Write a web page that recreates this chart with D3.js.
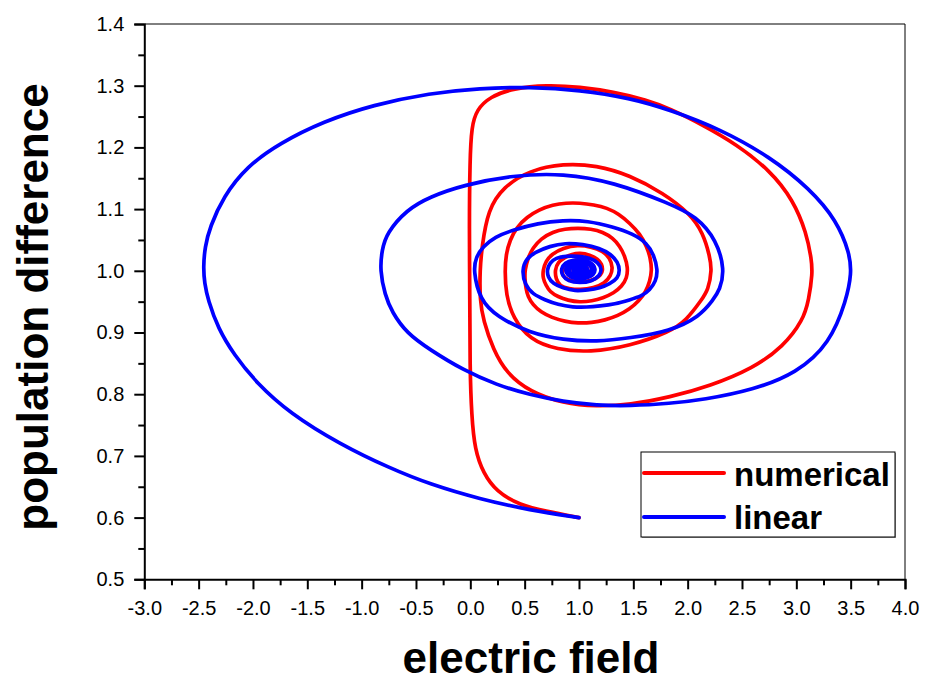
<!DOCTYPE html>
<html><head><meta charset="utf-8">
<script src="https://cdn.jsdelivr.net/npm/d3@7"></script>
<style>body{margin:0;background:#fff;} svg{display:block;font-family:"Liberation Sans",Arial,sans-serif;}</style>
</head><body><svg id="c" width="925" height="684"></svg>
<script>
// ---------- data ----------
const seriesNames = ["numerical", "linear"];
const xTicks = [-3.0,-2.5,-2.0,-1.5,-1.0,-0.5,0.0,0.5,1.0,1.5,2.0,2.5,3.0,3.5,4.0];
const yTicks = [0.5,0.6,0.7,0.8,0.9,1.0,1.1,1.2,1.3,1.4];
const xTitle = "electric field";
const yTitle = "population difference";

// numerical solution: [electric field, population difference]
const numerical = [
[1.000,0.600],[0.702,0.610],[0.456,0.620],[0.242,0.642],[0.119,0.672],[0.042,0.710],[0.012,0.764],
[-0.004,0.845],[-0.004,0.953],[-0.010,1.071],[-0.004,1.180],[0.012,1.234],[0.058,1.261],[0.180,1.282],
[0.395,1.296],[0.702,1.301],[1.008,1.298],[1.315,1.290],[1.622,1.277],[1.836,1.263],[2.143,1.236],
[2.450,1.205],[2.756,1.163],[2.971,1.115],[3.094,1.061],[3.140,1.018],[3.149,0.996],[3.115,0.953],
[3.063,0.920],[2.879,0.877],[2.603,0.842],[2.204,0.813],[1.836,0.795],[1.468,0.783],[1.162,0.780],
[0.855,0.785],[0.548,0.804],[0.334,0.834],[0.211,0.872],[0.119,0.920],[0.088,0.953],[0.088,1.001],
[0.107,1.039],[0.162,1.099],[0.303,1.136],[0.548,1.163],[0.855,1.174],[1.162,1.171],[1.468,1.155],
[1.775,1.126],[2.020,1.093],[2.143,1.061],[2.204,1.023],[2.223,1.001],[2.189,0.969],[2.128,0.953],
[1.990,0.920],[1.836,0.901],[1.468,0.878],[1.100,0.868],[0.797,0.872],[0.548,0.888],[0.392,0.924],
[0.328,0.961],[0.318,1.001],
[0.328,1.026],[0.364,1.050],[0.429,1.071],[0.521,1.087],[0.631,1.099],[0.760,1.107],[0.879,1.110],
[1.008,1.110],[1.137,1.107],[1.257,1.102],[1.367,1.092],[1.468,1.077],[1.560,1.060],[1.625,1.039],
[1.657,1.021],[1.671,1.001],[1.652,0.983],[1.615,0.966],[1.551,0.951],[1.468,0.938],[1.358,0.927],
[1.238,0.920],[1.119,0.916],[0.990,0.915],[0.870,0.918],[0.751,0.924],[0.649,0.933],[0.576,0.945],
[0.530,0.958],[0.511,0.972],[0.502,0.987],[0.502,1.001],[0.530,1.021],[0.576,1.037],[0.649,1.052],
[0.760,1.063],[0.870,1.068],[0.990,1.069],[1.109,1.068],[1.220,1.063],[1.312,1.053],[1.376,1.040],
[1.422,1.024],[1.450,1.005],[1.441,0.988],[1.395,0.975],[1.321,0.964],[1.220,0.956],[1.119,0.951],
[1.008,0.949],[0.898,0.952],[0.806,0.958],[0.732,0.966],[0.695,0.977],[0.668,0.988],[0.668,1.001],
[0.695,1.016],[0.751,1.027],[0.852,1.037],[0.990,1.042],[1.109,1.039],[1.220,1.032],[1.284,1.021],
[1.312,1.005],[1.293,0.992],[1.238,0.980],[1.137,0.972],[1.008,0.969],[0.907,0.971],[0.824,0.975],
[0.787,0.987],[0.778,1.001],[0.806,1.014],[0.870,1.022],[0.935,1.027],[1.008,1.029],[1.100,1.026],
[1.174,1.019],[1.211,1.011],[1.220,1.001],[1.201,0.993],[1.155,0.987],[1.082,0.983],[1.008,0.982],
[0.925,0.984],[0.870,0.988],[0.843,0.995],[0.852,1.001],[0.879,1.011],[0.935,1.016],[1.008,1.018],
[1.082,1.015],[1.137,1.009],[1.146,1.001],[1.119,0.993],[1.063,0.990],[0.990,0.990],[0.925,0.993],
[0.907,1.001],[0.935,1.008],[0.999,1.010],[1.063,1.008],[1.091,1.001],[1.054,0.995],[0.990,0.995],
[0.953,1.000],[0.971,1.006],[1.027,1.006],[1.045,1.001],[1.008,0.998],[0.990,1.001],[1.008,1.003]
];

// linear approximation: [electric field, population difference]
const linear = [
[1.000,0.600],[0.548,0.612],[0.088,0.630],[-0.372,0.654],[-0.740,0.680],[-1.200,0.719],[-1.660,0.769],
[-1.966,0.818],[-2.175,0.864],[-2.322,0.907],[-2.414,0.953],[-2.446,0.980],[-2.457,1.006],[-2.442,1.039],
[-2.396,1.071],[-2.273,1.120],[-2.058,1.169],[-1.752,1.207],[-1.353,1.242],[-0.893,1.269],[-0.372,1.288],
[0.088,1.296],[0.548,1.298],[1.008,1.293],[1.468,1.280],[1.836,1.261],[2.296,1.230],[2.756,1.185],
[3.124,1.133],[3.370,1.082],[3.492,1.028],[3.508,0.996],[3.462,0.953],[3.308,0.882],[3.002,0.834],
[2.603,0.807],[2.143,0.791],[1.836,0.785],[1.468,0.781],[1.162,0.782],[0.855,0.788],[0.548,0.799],
[0.242,0.815],[-0.065,0.839],[-0.372,0.872],[-0.586,0.899],[-0.721,0.933],[-0.786,0.961],[-0.832,1.001],
[-0.813,1.034],[-0.770,1.061],[-0.586,1.099],[-0.372,1.120],[-0.065,1.139],[0.395,1.155],[0.855,1.158],
[1.315,1.144],[1.836,1.109],[2.082,1.088],[2.266,1.050],[2.342,1.001],[2.296,0.969],[2.235,0.953],
[2.112,0.926],[1.836,0.902],[1.468,0.891],[1.162,0.885],[0.855,0.888],[0.548,0.899],[0.242,0.926],
[0.088,0.953],[0.027,1.001],
[0.052,1.022],[0.116,1.039],[0.226,1.055],[0.392,1.066],[0.622,1.077],
[0.852,1.082],[1.082,1.081],[1.312,1.071],[1.496,1.060],[1.625,1.045],[1.689,1.026],[1.726,1.001],
[1.707,0.983],[1.652,0.969],[1.579,0.959],[1.468,0.953],[1.330,0.946],[1.192,0.943],[1.073,0.941],
[0.944,0.941],[0.806,0.945],[0.686,0.953],[0.576,0.962],[0.502,0.977],[0.475,1.001],[0.511,1.019],
[0.594,1.030],[0.732,1.040],[0.870,1.045],[1.036,1.043],[1.192,1.037],[1.293,1.027],[1.358,1.014],
[1.376,1.001],[1.358,0.988],[1.284,0.979],[1.192,0.972],[1.082,0.969],[0.962,0.967],[0.852,0.972],
[0.760,0.979],[0.714,0.990],[0.705,1.001],[0.732,1.013],[0.787,1.021],[0.879,1.024],[0.990,1.024],
[1.100,1.021],[1.174,1.014],[1.211,1.003],[1.192,0.992],[1.119,0.983],[1.008,0.980],[0.898,0.983],
[0.843,0.993],[0.834,1.003],[0.870,1.013],[0.944,1.018],[1.036,1.018],[1.119,1.013],[1.155,1.003],
[1.137,0.993],[1.063,0.987],[0.971,0.986],[0.889,0.993],[0.870,1.003],[0.907,1.011],[0.990,1.014],
[1.073,1.013],[1.128,1.005],[1.109,0.995],[1.045,0.990],[0.962,0.990],[0.907,0.996],[0.907,1.005],
[0.962,1.009],[1.036,1.009],[1.091,1.003],[1.073,0.995],[1.008,0.992],[0.944,0.996],[0.944,1.005],
[0.999,1.007],[1.054,1.005],[1.054,0.998],[0.999,0.996],[0.962,1.001],[0.999,1.004],[1.027,1.000],
[0.999,1.000]
];

// ---------- styles ----------
const colors = {numerical: "#ff0000", linear: "#0000ff"};

const svg = d3.select("#c");
const L = 144.3, R = 905, T = 24, B = 579.3;
const x = d3.scaleLinear().domain([xTicks[0], xTicks[xTicks.length-1]]).range([L, R]);
const y = d3.scaleLinear().domain([yTicks[0], yTicks[yTicks.length-1]]).range([B, T]);

// frame (top & right thin)
svg.append("line").attr("x1", L).attr("x2", R).attr("y1", T).attr("y2", T).attr("stroke", "#000").attr("stroke-width", 1);
svg.append("line").attr("x1", R).attr("x2", R).attr("y1", T).attr("y2", B).attr("stroke", "#000").attr("stroke-width", 1);

// curves (smoothed B-spline through the read points)
const line = d3.line().x(d => x(d[0])).y(d => y(d[1])).curve(d3.curveBasis);
const data = {numerical, linear};
seriesNames.forEach(n => {
  svg.append("path").datum(data[n]).attr("d", line)
    .attr("fill", "none").attr("stroke", colors[n]).attr("stroke-width", 3.7)
    .attr("stroke-linejoin", "round").attr("stroke-linecap", "round");
});

// minor tick values (midpoints between majors)
const xMinor = d3.pairs(xTicks).map(p => (p[0] + p[1]) / 2);
const yMinor = d3.pairs(yTicks).map(p => (p[0] + p[1]) / 2);

const fmt = d => d.toFixed(1);
const gx = svg.append("g").attr("transform", `translate(0,${B})`)
  .call(d3.axisBottom(x).tickValues(xTicks).tickFormat(fmt).tickSize(10).tickPadding(12));
const gxm = svg.append("g").attr("transform", `translate(0,${B})`)
  .call(d3.axisBottom(x).tickValues(xMinor).tickFormat("").tickSize(6));
const gy = svg.append("g").attr("transform", `translate(${L},0)`)
  .call(d3.axisLeft(y).tickValues(yTicks).tickFormat(fmt).tickSize(10).tickPadding(10));
const gym = svg.append("g").attr("transform", `translate(${L},0)`)
  .call(d3.axisLeft(y).tickValues(yMinor).tickFormat("").tickSize(6));
[gx, gy, gxm, gym].forEach(g => {
  g.select(".domain").attr("stroke", "#000").attr("stroke-width", 2);
  g.selectAll(".tick line").attr("stroke", "#000").attr("stroke-width", 2);
  g.selectAll(".tick text").attr("fill", "#000").style("font-size", "20px")
    .style("font-family", '"Liberation Sans", Arial, sans-serif');
});
gxm.select(".domain").remove(); gym.select(".domain").remove();

// axis titles
svg.append("text").attr("x", 531).attr("y", 673).attr("text-anchor", "middle")
  .style("font-size", "44px").style("font-weight", "bold").text(xTitle);
svg.append("text").attr("transform", `translate(48,${307}) rotate(-90)`).attr("text-anchor", "middle")
  .style("font-size", "44px").style("font-weight", "bold").text(yTitle);

// legend
const lg = svg.append("g");
lg.append("rect").attr("x", 642).attr("y", 453).attr("width", 254).attr("height", 85).attr("fill", "#999");
lg.append("rect").attr("x", 641).attr("y", 452).attr("width", 254).attr("height", 85)
  .attr("fill", "#fff").attr("stroke", "#000").attr("stroke-width", 1);
const legY = [473, 517], legBase = [486, 529];
seriesNames.forEach((n, i) => {
  lg.append("line").attr("x1", 644).attr("x2", 724).attr("y1", legY[i]).attr("y2", legY[i])
    .attr("stroke", colors[n]).attr("stroke-width", 4).attr("stroke-linecap", "round");
  lg.append("text").attr("x", 734).attr("y", legBase[i]).style("font-size", "33px")
    .style("font-weight", "bold").attr("fill", "#000").text(n);
});
</script></body></html>
